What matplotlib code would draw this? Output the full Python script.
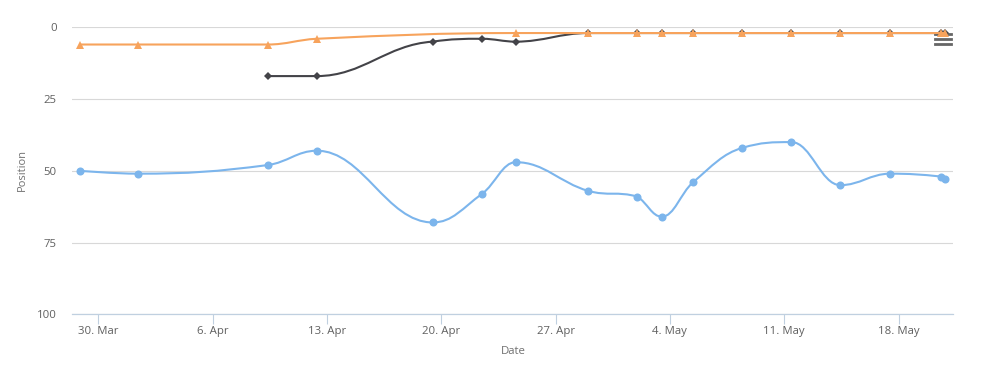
import numpy as np
import pandas as pd
import matplotlib
matplotlib.use("Agg")
import matplotlib.pyplot as plt
import matplotlib.dates as mdates
from matplotlib.path import Path
from matplotlib.patches import PathPatch
from matplotlib.lines import Line2D

plt.rcParams['font.family'] = ['Open Sans', 'DejaVu Sans']

# data
dates = pd.to_datetime([
    "2015-03-28 21:00", "2015-04-01 10:00", "2015-04-09 09:00", "2015-04-12 09:00",
    "2015-04-19 11:30", "2015-04-22 12:00", "2015-04-24 13:30", "2015-04-29 00:00",
    "2015-05-02 00:00", "2015-05-03 12:00", "2015-05-05 10:00", "2015-05-08 10:30",
    "2015-05-11 10:30", "2015-05-14 10:30", "2015-05-17 11:30", "2015-05-20 14:00",
    "2015-05-20 20:00",
])
blue_pos = [50, 51, 48, 43, 68, 58, 47, 57, 59, 66, 54, 42, 40, 55, 51, 52, 53]
black_idx = list(range(2, 17))
black_pos = [17, 17, 5, 4, 5, 2, 2, 2, 2, 2, 2, 2, 2, 2, 2]
orange_idx = [0, 1, 2, 3] + list(range(6, 17))
orange_pos = [6, 6, 6, 4, 2, 2, 2, 2, 2, 2, 2, 2, 2, 2, 2]

x_min = pd.Timestamp("2015-03-28 09:20")
x_max = pd.Timestamp("2015-05-21 08:00")


def spline_path(xs, ys, smoothing=1.5):
    # highcharts-like spline control points
    n = len(xs)
    verts = [(xs[0], ys[0])]
    codes = [Path.MOVETO]
    lc = [(x, y) for x, y in zip(xs, ys)]
    rc = [(x, y) for x, y in zip(xs, ys)]
    den = smoothing + 1
    for i in range(1, n - 1):
        px, py = xs[i], ys[i]
        lx, ly = xs[i - 1], ys[i - 1]
        nx, ny = xs[i + 1], ys[i + 1]
        lcx = (smoothing * px + lx) / den
        lcy = (smoothing * py + ly) / den
        rcx = (smoothing * px + nx) / den
        rcy = (smoothing * py + ny) / den
        if rcx != lcx:
            corr = (rcy - lcy) * (rcx - px) / (rcx - lcx) + py - rcy
            lcy += corr
            rcy += corr
        if lcy > ly and lcy > py:
            lcy = max(ly, py)
            rcy = 2 * py - lcy
        elif lcy < ly and lcy < py:
            lcy = min(ly, py)
            rcy = 2 * py - lcy
        if rcy > ny and rcy > py:
            rcy = max(ny, py)
            lcy = 2 * py - rcy
        elif rcy < ny and rcy < py:
            rcy = min(ny, py)
            lcy = 2 * py - rcy
        lc[i] = (lcx, lcy)
        rc[i] = (rcx, rcy)
    for i in range(1, n):
        verts += [rc[i - 1], lc[i], (xs[i], ys[i])]
        codes += [Path.CURVE4] * 3
    return Path(verts, codes)


fig = plt.figure(figsize=(9.82, 3.75), dpi=100)
ax = fig.add_axes([72 / 982, 1 - 314.3 / 375, 881 / 982, 287 / 375])

xnum = mdates.date2num(dates)
series = [
    (xnum, blue_pos, '#7cb5ec', 'o', 5.8),
    (xnum[black_idx], black_pos, '#434348', 'D', 4.0),
    (xnum[orange_idx], orange_pos, '#f7a35c', '^', 5.9),
]
z = 3
for xs, ys, col, mk, ms in series:
    p = spline_path(list(xs), list(ys))
    ax.add_patch(PathPatch(p, fill=False, edgecolor=col, lw=1.5, zorder=z,
                           capstyle='round', joinstyle='round'))
    ax.plot(xs, ys, ls='none', marker=mk, color=col, ms=ms, mew=0, zorder=z + 0.5)
    z += 1

ax.set_xlim(mdates.date2num(x_min), mdates.date2num(x_max))
ax.set_ylim(100, 0)
ax.set_yticks([0, 25, 50, 75, 100])
ax.grid(axis='y', color='#d8d8d8', lw=0.8, zorder=0)
ax.set_axisbelow(True)

ax.xaxis.set_major_locator(mdates.WeekdayLocator(byweekday=mdates.MO))
ax.xaxis.set_major_formatter(plt.FuncFormatter(
    lambda v, pos: "%d. %s" % (mdates.num2date(v).day, mdates.num2date(v).strftime('%b'))))

for s in ['top', 'right', 'left']:
    ax.spines[s].set_visible(False)
ax.spines['bottom'].set_color('#c0d0e0')
ax.spines['bottom'].set_linewidth(0.9)
ax.tick_params(axis='x', length=7.2, width=0.8, color='#c0d0e0', pad=1.5,
               labelsize=8.2, labelcolor='#606060')
ax.tick_params(axis='y', length=0, pad=11, labelsize=8.2, labelcolor='#606060')

fig.text(22 / 982, 1 - 170 / 375, 'Position', rotation=90, ha='center', va='center',
         fontsize=8, color='#707070')
fig.text(513 / 982, 1 - 352 / 375, 'Date', ha='center', va='center',
         fontsize=8.2, color='#707070')

# context menu icon
for yy in [34, 39, 44]:
    ax.add_line(Line2D([935 / 982, 951 / 982], [1 - yy / 375] * 2, transform=fig.transFigure,
                       color='#666666', lw=2.0, zorder=2.5, clip_on=False))

fig.savefig('out.png', dpi=100)
